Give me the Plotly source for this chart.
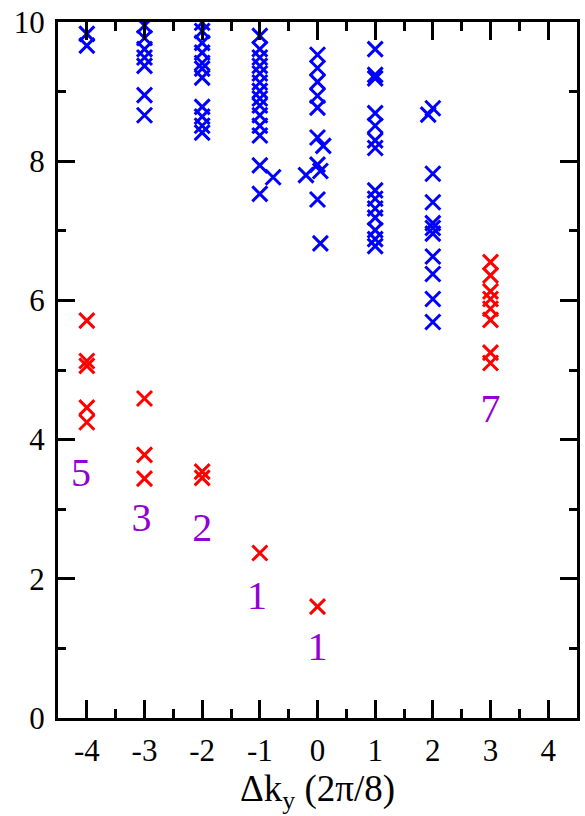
import plotly.graph_objects as go

# Upper band of excitations (blue)
blue_k = [
    -4, -4,
    -3, -3, -3, -3, -3, -3, -3,
    -2, -2, -2, -2, -2, -2, -2, -2, -2, -2, -2,
    -1, -1, -1, -1, -1, -1, -1, -1, -1, -1, -1, -1, -1, -0.77, -1,
    0, 0, 0, 0, 0, 0, 0.1, 0, 0.05, -0.2, 0, 0.05,
    1, 1, 1, 1, 1, 1, 1, 1, 1, 1, 1, 1, 1, 1,
    2, 1.92, 2, 2, 2, 2, 2, 2, 2, 2, 2,
]
blue_E = [
    9.83, 9.66,
    9.95, 9.77, 9.61, 9.49, 9.37, 8.95, 8.66,
    9.99, 9.87, 9.70, 9.56, 9.41, 9.33, 9.20, 8.78, 8.64, 8.51, 8.41,
    9.80, 9.61, 9.49, 9.37, 9.26, 9.13, 9.01, 8.90, 8.80, 8.66, 8.51, 8.37, 7.94, 7.77, 7.53,
    9.53, 9.34, 9.14, 8.94, 8.77, 8.34, 8.22, 7.95, 7.86, 7.80, 7.45, 6.82,
    9.61, 9.24, 9.19, 8.69, 8.51, 8.30, 8.19, 7.58, 7.46, 7.32, 7.19, 7.01, 6.88, 6.78,
    8.76, 8.67, 7.82, 7.41, 7.11, 7.04, 6.96, 6.63, 6.38, 6.02, 5.69,
]

# Low-lying states (red)
red_k = [-4, -4, -4, -4, -4, -3, -3, -3, -2, -2, -1, 0, 3, 3, 3, 3, 3, 3, 3, 3]
red_E = [5.71, 5.13, 5.06, 4.46, 4.25, 4.59, 3.78, 3.44, 3.54, 3.45, 2.37, 1.60,
         6.55, 6.36, 6.13, 6.02, 5.88, 5.72, 5.25, 5.10]

# Counts of low-lying states per momentum sector
count_k = [-4.1, -3.05, -2.0, -1.05, 0.0, 3.0]
count_E = [3.47, 2.83, 2.68, 1.71, 0.97, 4.40]
count_txt = ["5", "3", "2", "1", "1", "7"]

x_ticks = [-4, -3, -2, -1, 0, 1, 2, 3, 4]
x_labels = ["-4", "-3", "-2", "-1", "0", "1", "2", "3", "4"]
y_ticks = [0, 2, 4, 6, 8, 10]
y_labels = ["0", "2", "4", "6", "8", "10"]

serif = "Liberation Serif"
BLUE = "#0000FF"
RED = "#FF0000"

fig = go.Figure()
fig.add_trace(go.Scatter(
    x=blue_k, y=blue_E, mode="markers",
    marker=dict(symbol="x-thin-open", size=15, color=BLUE,
                line=dict(color=BLUE, width=3)),
    showlegend=False,
))
fig.add_trace(go.Scatter(
    x=red_k, y=red_E, mode="markers",
    marker=dict(symbol="x-thin-open", size=15, color=RED,
                line=dict(color=RED, width=3)),
    showlegend=False,
))
fig.add_trace(go.Scatter(
    x=count_k, y=count_E, mode="text", text=count_txt,
    textfont=dict(family=serif, size=40, color="#9400D3"),
    showlegend=False,
))

axis_common = dict(
    showgrid=False, zeroline=False,
    showline=True, linecolor="black", linewidth=3, mirror="allticks",
    ticks="inside", tickcolor="black", tickwidth=2.5,
    tickfont=dict(family=serif, size=31, color="black"),
)

fig.update_xaxes(
    range=[-4.5, 4.5], tickvals=x_ticks, ticktext=x_labels, ticklen=18,
    minor=dict(dtick=0.5, tick0=0, ticks="inside", ticklen=9, tickwidth=2.5, tickcolor="black"),
    ticklabelstandoff=3,
    title=dict(text="Δk<sub>y</sub> (2π/8)", font=dict(family=serif, size=37, color="black"),
               standoff=0),
    **axis_common,
)
fig.update_yaxes(
    range=[0, 10], tickvals=y_ticks, ticktext=y_labels, ticklen=17,
    minor=dict(dtick=1, tick0=0, ticks="inside", ticklen=8, tickwidth=2.5, tickcolor="black"),
    ticklabelstandoff=4,
    **axis_common,
)

fig.update_layout(
    width=585, height=816,
    margin=dict(l=58, r=5, t=18, b=98),
    plot_bgcolor="white", paper_bgcolor="white",
)

fig.write_html("out.html")
